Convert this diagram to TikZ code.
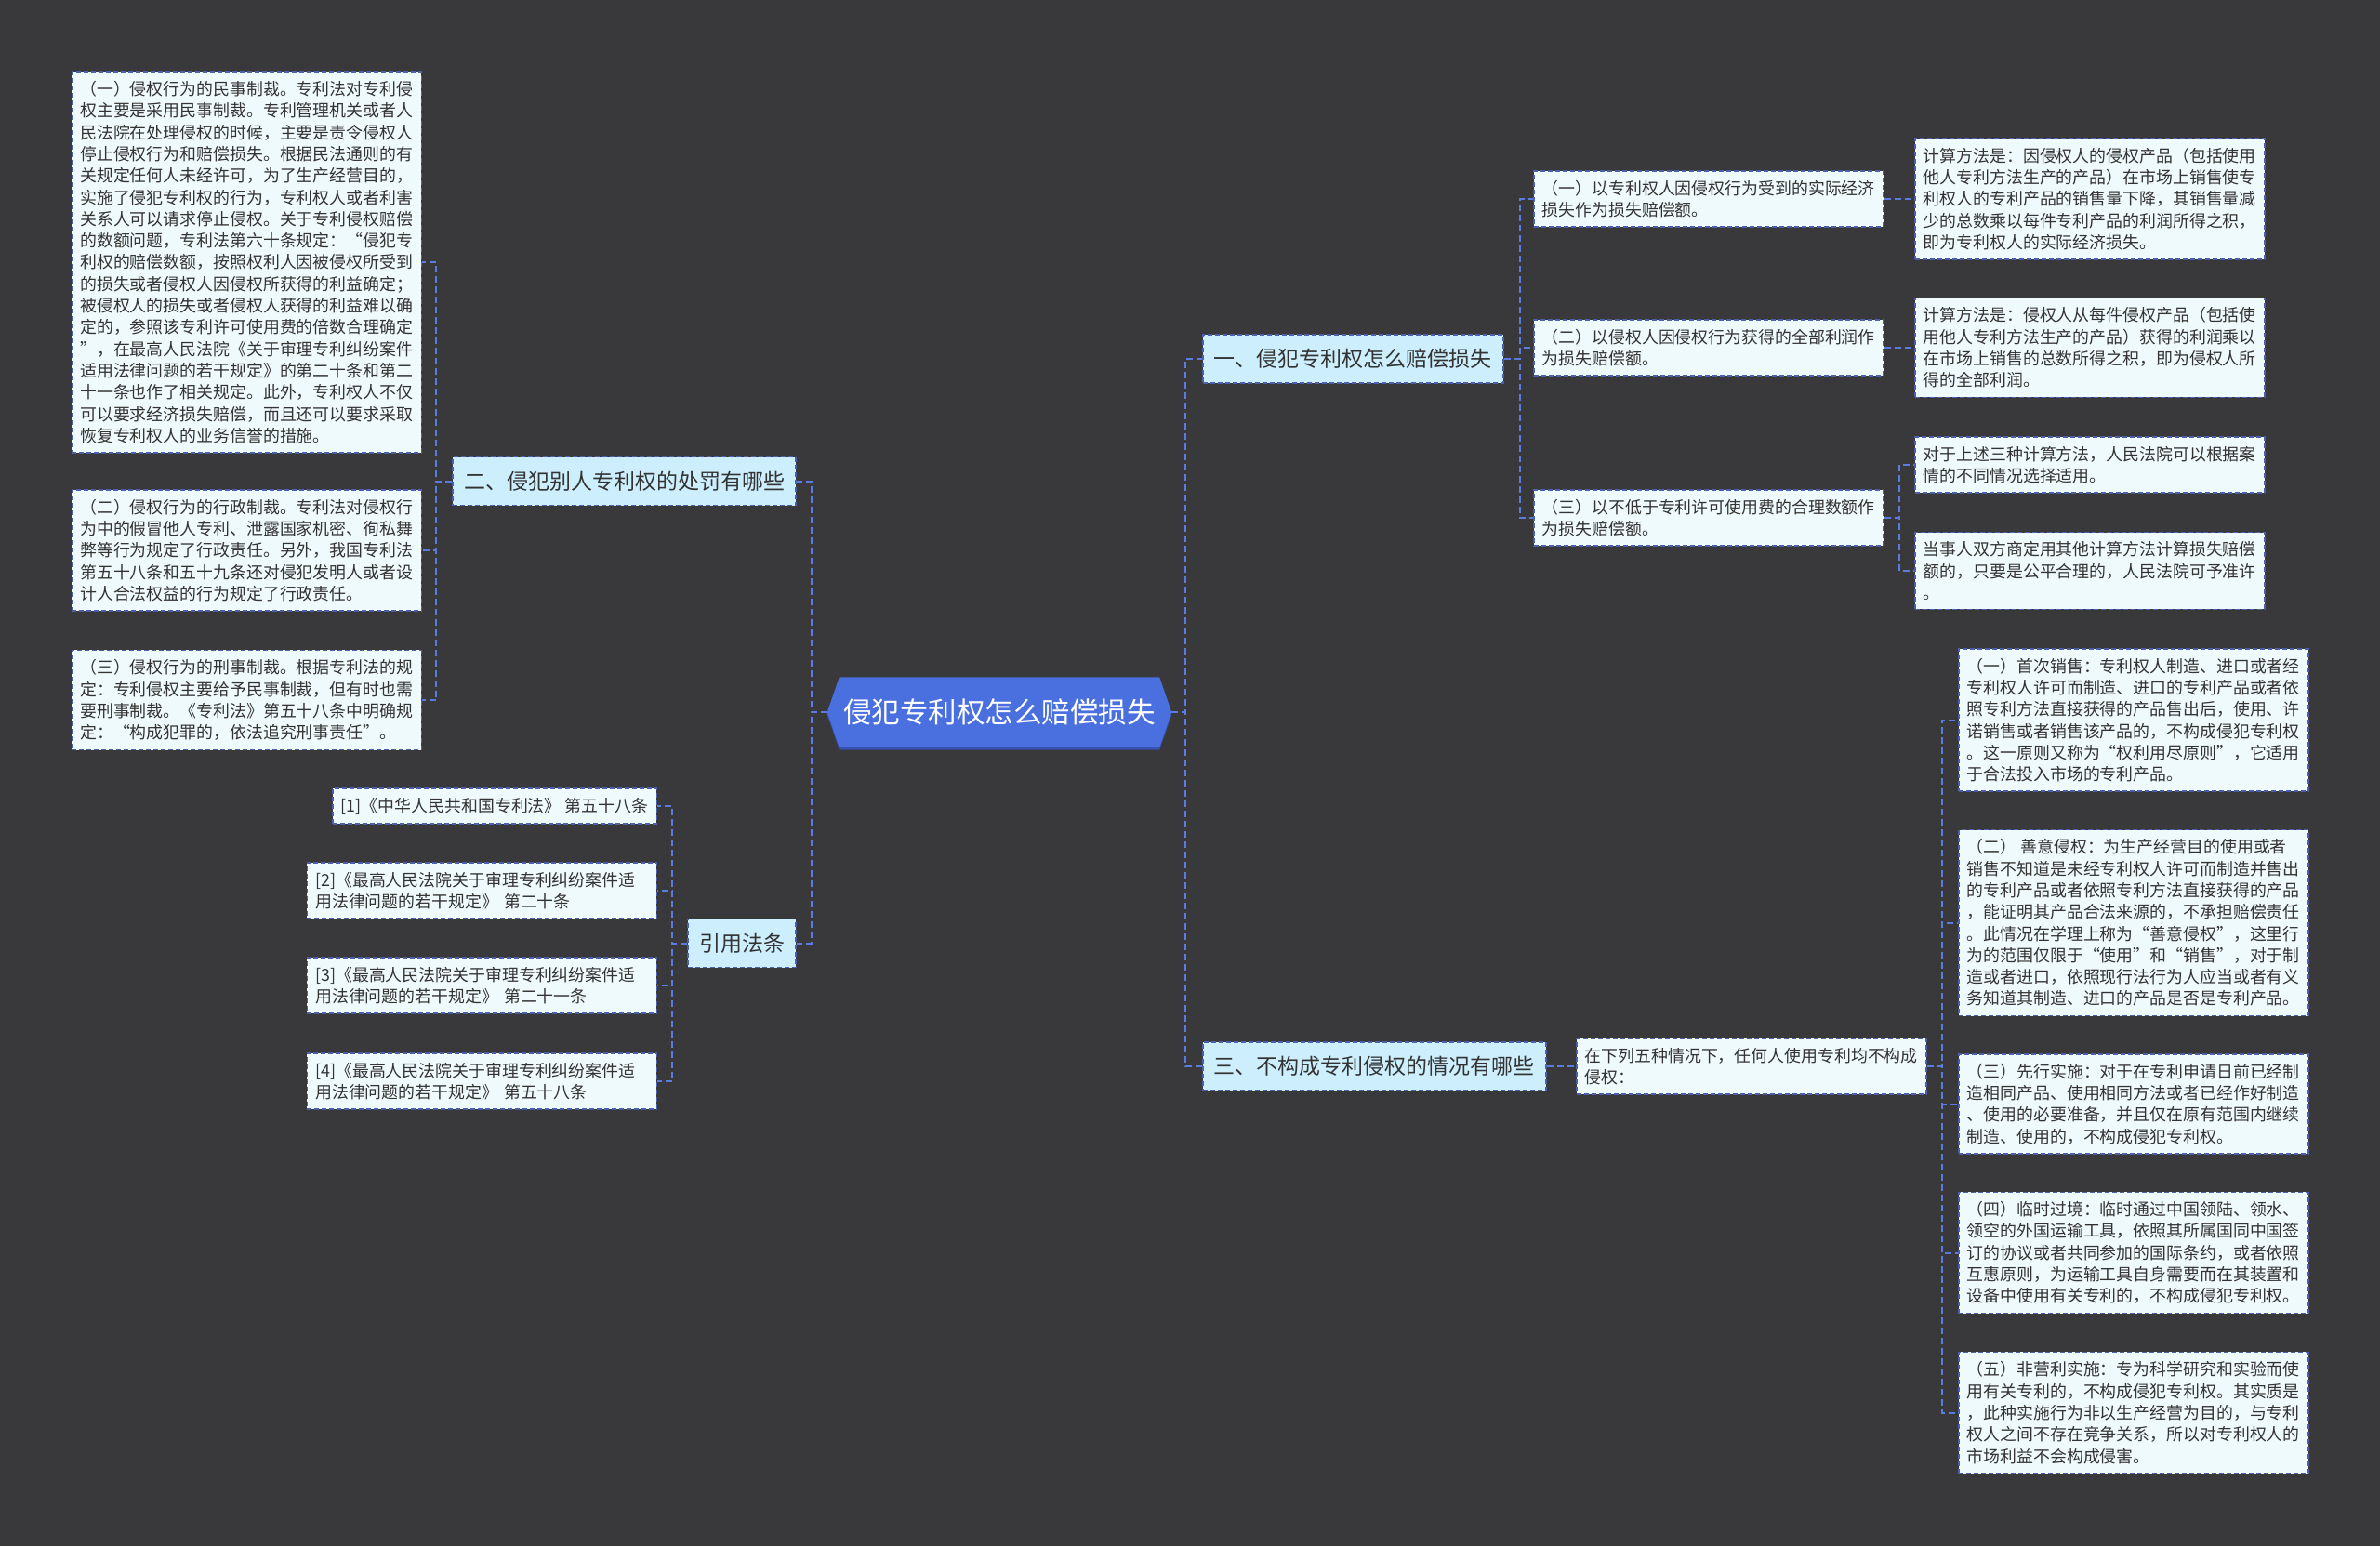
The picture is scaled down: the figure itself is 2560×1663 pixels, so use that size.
\documentclass[tikz,border=0pt]{standalone}
\usepackage{fontspec}
\newfontfamily\cjk{Noto Sans CJK SC}
\usetikzlibrary{calc,backgrounds}
\definecolor{bgc}{HTML}{39383B}
\definecolor{rootc}{HTML}{4A6FDF}
\definecolor{rootsh}{HTML}{3552B0}
\definecolor{branchfill}{HTML}{CDEFFD}
\definecolor{leaffill}{HTML}{EFFAFD}
\definecolor{borderc}{HTML}{4C5FAE}
\definecolor{connc}{HTML}{5A7BE0}
\definecolor{txtc}{HTML}{333333}
\begin{document}
\begin{tikzpicture}[x=1pt,y=-1pt,
  conn/.style={draw=connc,line width=2pt,dash pattern=on 7pt off 4pt},
  box/.style={draw=borderc,line width=1.5pt,dash pattern=on 5pt off 3pt,text=txtc},
  leaf/.style={box,fill=leaffill,align=left,inner xsep=9pt,inner ysep=10pt,
    font=\cjk\fontsize{17.9pt}{23.3pt}\selectfont},
  citewide/.style={text width=358pt},
  branch/.style={box,fill=branchfill,inner xsep=12pt,inner ysep=4pt,minimum height=52pt,
    font=\cjk\fontsize{23pt}{28pt}\selectfont},
  roottext/.style={text=white,minimum width=370pt,minimum height=75pt,inner sep=0pt,
    font=\cjk\fontsize{30.5pt}{34pt}\selectfont}]
\begin{scope}[on background layer]
\fill[bgc] (0,0) rectangle (2560,1663);
\end{scope}
\useasboundingbox (0,0) rectangle (2560,1663);

% root
\node[roottext] (c) at (1075,766) {侵犯专利权怎么赔偿损失};
\begin{scope}[on background layer]
\fill[rootsh] ($(c.west)+(0,3)$) -- ($(c.north west)+(13,3)$) -- ($(c.north east)+(-13,3)$) -- ($(c.east)+(0,3)$) -- ($(c.south east)+(-13,3)$) -- ($(c.south west)+(13,3)$) -- cycle;
\fill[rootc] (c.west) -- ($(c.north west)+(13,0)$) -- ($(c.north east)+(-13,0)$) -- (c.east) -- ($(c.south east)+(-13,0)$) -- ($(c.south west)+(13,0)$) -- cycle;
\end{scope}

% left branch
\node[branch] (n2) at (671.5,517.5) {二、侵犯别人专利权的处罚有哪些};
\node[leaf,anchor=east] (L1) at (454,282) {（一）侵权行为的民事制裁。专利法对专利侵\\权主要是采用民事制裁。专利管理机关或者人\\民法院在处理侵权的时候，主要是责令侵权人\\停止侵权行为和赔偿损失。根据民法通则的有\\关规定任何人未经许可，为了生产经营目的，\\实施了侵犯专利权的行为，专利权人或者利害\\关系人可以请求停止侵权。关于专利侵权赔偿\\的数额问题，专利法第六十条规定：“侵犯专\\利权的赔偿数额，按照权利人因被侵权所受到\\的损失或者侵权人因侵权所获得的利益确定；\\被侵权人的损失或者侵权人获得的利益难以确\\定的，参照该专利许可使用费的倍数合理确定\\”，在最高人民法院《关于审理专利纠纷案件\\适用法律问题的若干规定》的第二十条和第二\\十一条也作了相关规定。此外，专利权人不仅\\可以要求经济损失赔偿，而且还可以要求采取\\恢复专利权人的业务信誉的措施。};
\node[leaf,anchor=east] (L2) at (454,592) {（二）侵权行为的行政制裁。专利法对侵权行\\为中的假冒他人专利、泄露国家机密、徇私舞\\弊等行为规定了行政责任。另外，我国专利法\\第五十八条和五十九条还对侵犯发明人或者设\\计人合法权益的行为规定了行政责任。};
\node[leaf,anchor=east] (L3) at (454,753) {（三）侵权行为的刑事制裁。根据专利法的规\\定：专利侵权主要给予民事制裁，但有时也需\\要刑事制裁。《专利法》第五十八条中明确规\\定：“构成犯罪的，依法追究刑事责任”。};

\node[branch] (cite) at (798,1014.5) {引用法条};
\node[leaf,anchor=east] (C1) at (707,867) {[1]《中华人民共和国专利法》 第五十八条};
\node[leaf,citewide,anchor=east] (C2) at (707,958) {[2]《最高人民法院关于审理专利纠纷案件适\\用法律问题的若干规定》 第二十条};
\node[leaf,citewide,anchor=east] (C3) at (707,1060) {[3]《最高人民法院关于审理专利纠纷案件适\\用法律问题的若干规定》 第二十一条};
\node[leaf,citewide,anchor=east] (C4) at (707,1163) {[4]《最高人民法院关于审理专利纠纷案件适\\用法律问题的若干规定》 第五十八条};

% right branch 1
\node[branch,anchor=west] (n1) at (1293,386) {一、侵犯专利权怎么赔偿损失};
\node[leaf,anchor=west] (R1) at (1649,214) {（一）以专利权人因侵权行为受到的实际经济\\损失作为损失赔偿额。};
\node[leaf,anchor=west] (R2) at (1649,374) {（二）以侵权人因侵权行为获得的全部利润作\\为损失赔偿额。};
\node[leaf,anchor=west] (R3) at (1649,557) {（三）以不低于专利许可使用费的合理数额作\\为损失赔偿额。};
\node[leaf,anchor=west] (R1a) at (2059,214) {计算方法是：因侵权人的侵权产品（包括使用\\他人专利方法生产的产品）在市场上销售使专\\利权人的专利产品的销售量下降，其销售量减\\少的总数乘以每件专利产品的利润所得之积，\\即为专利权人的实际经济损失。};
\node[leaf,anchor=west] (R2a) at (2059,374) {计算方法是：侵权人从每件侵权产品（包括使\\用他人专利方法生产的产品）获得的利润乘以\\在市场上销售的总数所得之积，即为侵权人所\\得的全部利润。};
\node[leaf,anchor=west] (R3a) at (2059,500) {对于上述三种计算方法，人民法院可以根据案\\情的不同情况选择适用。};
\node[leaf,anchor=west] (R3b) at (2059,614) {当事人双方商定用其他计算方法计算损失赔偿\\额的，只要是公平合理的，人民法院可予准许\\。};

% right branch 3
\node[branch,anchor=west] (n3) at (1293,1147) {三、不构成专利侵权的情况有哪些};
\node[leaf,anchor=west] (T0) at (1695,1147) {在下列五种情况下，任何人使用专利均不构成\\侵权：};
\node[leaf,anchor=west] (T1) at (2106,774.5) {（一）首次销售：专利权人制造、进口或者经\\专利权人许可而制造、进口的专利产品或者依\\照专利方法直接获得的产品售出后，使用、许\\诺销售或者销售该产品的，不构成侵犯专利权\\。这一原则又称为“权利用尽原则”，它适用\\于合法投入市场的专利产品。};
\node[leaf,anchor=west] (T2) at (2106,992.5) {（二） 善意侵权：为生产经营目的使用或者\\销售不知道是未经专利权人许可而制造并售出\\的专利产品或者依照专利方法直接获得的产品\\，能证明其产品合法来源的，不承担赔偿责任\\。此情况在学理上称为“善意侵权”，这里行\\为的范围仅限于“使用”和“销售”，对于制\\造或者进口，依照现行法行为人应当或者有义\\务知道其制造、进口的产品是否是专利产品。};
\node[leaf,anchor=west] (T3) at (2106,1187.5) {（三）先行实施：对于在专利申请日前已经制\\造相同产品、使用相同方法或者已经作好制造\\、使用的必要准备，并且仅在原有范围内继续\\制造、使用的，不构成侵犯专利权。};
\node[leaf,anchor=west] (T4) at (2106,1347.5) {（四）临时过境：临时通过中国领陆、领水、\\领空的外国运输工具，依照其所属国同中国签\\订的协议或者共同参加的国际条约，或者依照\\互惠原则，为运输工具自身需要而在其装置和\\设备中使用有关专利的，不构成侵犯专利权。};
\node[leaf,anchor=west] (T5) at (2106,1519.5) {（五）非营利实施：专为科学研究和实验而使\\用有关专利的，不构成侵犯专利权。其实质是\\，此种实施行为非以生产经营为目的，与专利\\权人之间不存在竞争关系，所以对专利权人的\\市场利益不会构成侵害。};

% connectors
\begin{scope}[on background layer]
\draw[conn] (c.east) -- ++(15,0) |- (n1.west);
\draw[conn] (c.east) -- ++(15,0) |- (n3.west);
\draw[conn] (c.west) -- ++(-17,0) |- (n2.east);
\draw[conn] (c.west) -- ++(-17,0) |- (cite.east);
\foreach \t in {L1,L2,L3}{\draw[conn] (n2.west) -- ++(-17,0) |- (\t.east);}
\foreach \t in {C1,C2,C3,C4}{\draw[conn] (cite.west) -- ++(-16,0) |- (\t.east);}
\foreach \t in {R1,R2,R3}{\draw[conn] (n1.east) -- ++(17,0) |- (\t.west);}
\draw[conn] (R1.east) -- (R1a.west);
\draw[conn] (R2.east) -- (R2a.west);
\draw[conn] (R3.east) -- ++(16,0) |- (R3a.west);
\draw[conn] (R3.east) -- ++(16,0) |- (R3b.west);
\draw[conn] (n3.east) -- (T0.west);
\foreach \t in {T1,T2,T3,T4,T5}{\draw[conn] (T0.east) -- ++(16,0) |- (\t.west);}
\end{scope}
\end{tikzpicture}
\end{document}
